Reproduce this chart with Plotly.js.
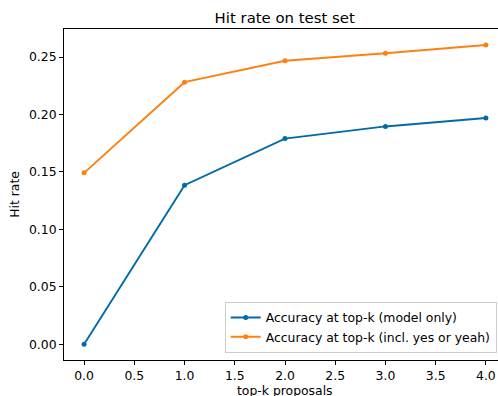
<!DOCTYPE html>
<html>
<head>
<meta charset="utf-8">
<script src="https://cdn.plot.ly/plotly-3.0.1.min.js"></script>
<style>
html, body { margin: 0; padding: 0; overflow: hidden; width: 498px; height: 396px; background: #fff; }
#chart { width: 520px; height: 396px; }
</style>
</head>
<body>
<div id="chart"></div>
<script>
const topK = [0, 1, 2, 3, 4];
const modelOnly = [0.0, 0.1385, 0.179, 0.1896, 0.197];
const inclYesYeah = [0.1492, 0.2281, 0.2468, 0.2533, 0.2605];
const seriesNames = ["Accuracy at top-k (model only)", "Accuracy at top-k (incl. yes or yeah)"];
const xTicks = [0, 0.5, 1, 1.5, 2, 2.5, 3, 3.5, 4];
const yTicks = [0, 0.05, 0.10, 0.15, 0.20, 0.25];
const xTitle = "top-k proposals";

const font = "'DejaVu Sans', sans-serif";
const fs = 12.4;
const traces = [
  {x: topK, y: modelOnly, name: seriesNames[0], type: "scatter", mode: "lines+markers",
   line: {color: "#006BA4", width: 1.9}, marker: {color: "#006BA4", size: 5}},
  {x: topK, y: inclYesYeah, name: seriesNames[1], type: "scatter", mode: "lines+markers",
   line: {color: "#FF800E", width: 1.9}, marker: {color: "#FF800E", size: 5}}
];
const W = 520, H = 396;
const L = 63.5, T = 29, R = 506, B = 360;
const layout = {
  width: W, height: H,
  margin: {l: L, t: T, r: W - R, b: H - B, pad: 0},
  paper_bgcolor: "#fff", plot_bgcolor: "#fff",
  font: {family: font, size: fs, color: "#000"},
  title: {text: "Hit rate on test set", font: {family: font, size: 14.9, color: "#000"},
          x: (L + R) / 2 / W, xanchor: "center", xref: "container",
          y: 1 - 17.5 / H, yanchor: "middle", yref: "container"},
  showlegend: true,
  legend: {x: (496.7 - L) / (R - L), y: (B - 353) / (B - T), xanchor: "right", yanchor: "bottom",
           bgcolor: "rgba(255,255,255,0.8)", bordercolor: "#cccccc", borderwidth: 1,
           font: {family: font, size: fs, color: "#000"}, tracegroupgap: 0},
  annotations: [{text: xTitle, xref: "paper", yref: "paper", x: 0.5, y: 0,
                 xanchor: "center", yanchor: "middle", yshift: -(390 - B), showarrow: false,
                 font: {family: font, size: fs, color: "#000"}}],
  xaxis: {range: [-0.2, 4.2], tickvals: xTicks, ticktext: xTicks.map(v => v.toFixed(1)),
          showgrid: false, zeroline: false, showline: true, linecolor: "#000", linewidth: 1, mirror: true,
          ticks: "outside", ticklen: 4, tickwidth: 1, tickcolor: "#000"},
  yaxis: {range: [-0.0137, 0.2744], tickvals: yTicks, ticktext: yTicks.map(v => v.toFixed(2)),
          showgrid: false, zeroline: false, showline: true, linecolor: "#000", linewidth: 1, mirror: true,
          ticks: "outside", ticklen: 4, tickwidth: 1, tickcolor: "#000",
          title: {text: "Hit rate", font: {family: font, size: fs, color: "#000"}, standoff: 6}}
};
Plotly.newPlot("chart", traces, layout, {displayModeBar: false, staticPlot: true});
</script>
</body>
</html>
